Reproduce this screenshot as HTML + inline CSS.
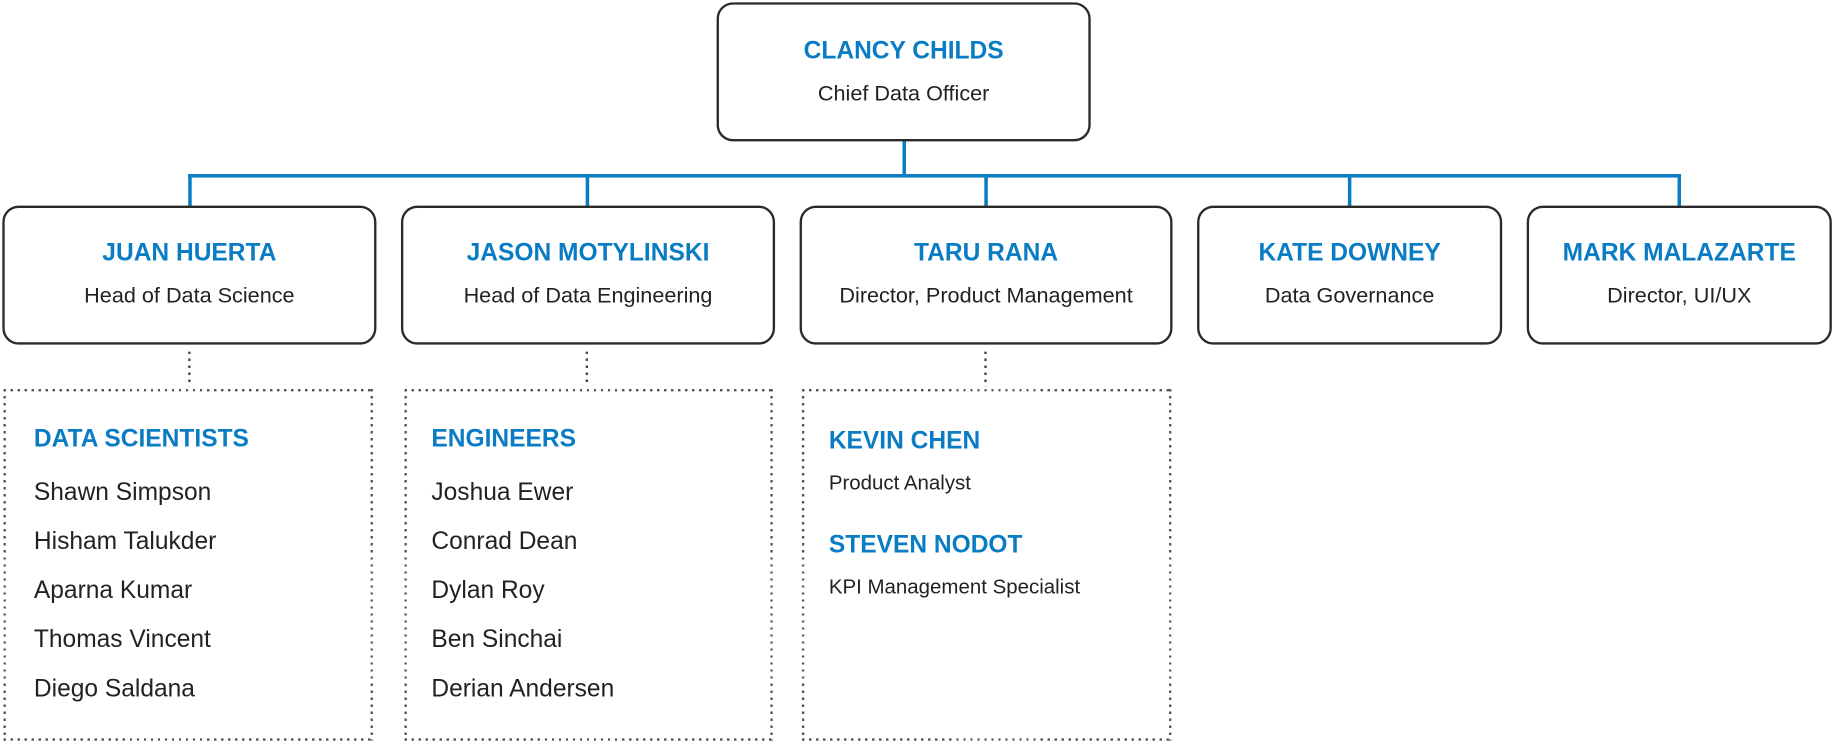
<!DOCTYPE html>
<html><head><meta charset="utf-8"><style>
html,body{margin:0;padding:0;background:#fff;width:1833px;height:743px;overflow:hidden}
#w{position:absolute;left:0;top:0;width:1568px;height:636px;transform:scale(1.16901,1.16824);transform-origin:0 0;font-family:"Liberation Sans",sans-serif}
.box{position:absolute;border:2.7px solid #2a2a2a;border-radius:14px;box-sizing:border-box;background:#fff}
.t{position:absolute;left:0;right:0;text-align:center;color:#0a7cc4;font-weight:bold;font-size:21px;white-space:nowrap}
.s{position:absolute;left:0;right:0;text-align:center;color:#222;font-size:18.5px;white-space:nowrap}
.l{position:absolute;background:#0a7cc4}
.dv{position:absolute;width:2px;background:repeating-linear-gradient(to bottom,#444 0 2px,transparent 2px 6px)}
.db{position:absolute;box-sizing:border-box;
background:
repeating-linear-gradient(to right,#555 0 2px,transparent 2px 6px) top/100% 2px no-repeat,
repeating-linear-gradient(to right,#555 0 2px,transparent 2px 6px) bottom/100% 2px no-repeat,
repeating-linear-gradient(to bottom,#555 0 2px,transparent 2px 6px) left/2px 100% no-repeat,
repeating-linear-gradient(to bottom,#555 0 2px,transparent 2px 6px) right/2px 100% no-repeat}
.h{position:absolute;color:#0a7cc4;font-weight:bold;font-size:21px;white-space:nowrap}
.n{position:absolute;color:#222;font-size:21px;white-space:nowrap}
.p{position:absolute;color:#222;font-size:17.5px;white-space:nowrap}
</style></head><body><div id="w">
<div class="l" style="left:771.5px;top:120px;width:3px;height:31px"></div>
<div class="l" style="left:160.5px;top:148.5px;width:1277px;height:3px"></div>
<div class="l" style="left:160.5px;top:148.5px;width:3px;height:30px"></div>
<div class="l" style="left:500.5px;top:148.5px;width:3px;height:30px"></div>
<div class="l" style="left:841.5px;top:148.5px;width:3px;height:30px"></div>
<div class="l" style="left:1152.5px;top:148.5px;width:3px;height:30px"></div>
<div class="l" style="left:1434.5px;top:148.5px;width:3px;height:30px"></div>

<div class="box" style="left:613px;top:2px;width:320px;height:119px"><div class="t" style="top:28px">CLANCY CHILDS</div><div class="s" style="top:65px">Chief Data Officer</div></div>
<div class="box" style="left:2px;top:176px;width:320px;height:119px"><div class="t" style="top:27px">JUAN HUERTA</div><div class="s" style="top:64px">Head of Data Science</div></div>
<div class="box" style="left:343px;top:176px;width:320px;height:119px"><div class="t" style="top:27px">JASON MOTYLINSKI</div><div class="s" style="top:64px">Head of Data Engineering</div></div>
<div class="box" style="left:684px;top:176px;width:319px;height:119px"><div class="t" style="top:27px">TARU RANA</div><div class="s" style="top:64px">Director, Product Management</div></div>
<div class="box" style="left:1024px;top:176px;width:261px;height:119px"><div class="t" style="top:27px">KATE DOWNEY</div><div class="s" style="top:64px">Data Governance</div></div>
<div class="box" style="left:1306px;top:176px;width:261px;height:119px"><div class="t" style="top:27px">MARK MALAZARTE</div><div class="s" style="top:64px">Director, UI/UX</div></div>

<div class="dv" style="left:161px;top:301px;height:30px"></div>
<div class="dv" style="left:501px;top:301px;height:30px"></div>
<div class="dv" style="left:842px;top:301px;height:30px"></div>
<div class="db" style="left:3px;top:333px;width:316px;height:301px"></div>
<div class="db" style="left:346px;top:333px;width:315px;height:301px"></div>
<div class="db" style="left:686px;top:333px;width:316px;height:301px"></div>

<div class="h" style="left:29px;top:364px">DATA SCIENTISTS</div>
<div class="n" style="left:29px;top:410px">Shawn Simpson</div>
<div class="n" style="left:29px;top:452px">Hisham Talukder</div>
<div class="n" style="left:29px;top:494px">Aparna Kumar</div>
<div class="n" style="left:29px;top:536px">Thomas Vincent</div>
<div class="n" style="left:29px;top:578px">Diego Saldana</div>

<div class="h" style="left:369px;top:364px">ENGINEERS</div>
<div class="n" style="left:369px;top:410px">Joshua Ewer</div>
<div class="n" style="left:369px;top:452px">Conrad Dean</div>
<div class="n" style="left:369px;top:494px">Dylan Roy</div>
<div class="n" style="left:369px;top:536px">Ben Sinchai</div>
<div class="n" style="left:369px;top:578px">Derian Andersen</div>

<div class="h" style="left:709px;top:366px">KEVIN CHEN</div>
<div class="p" style="left:709px;top:403px">Product Analyst</div>
<div class="h" style="left:709px;top:455px">STEVEN NODOT</div>
<div class="p" style="left:709px;top:492px">KPI Management Specialist</div>
</div></body></html>
